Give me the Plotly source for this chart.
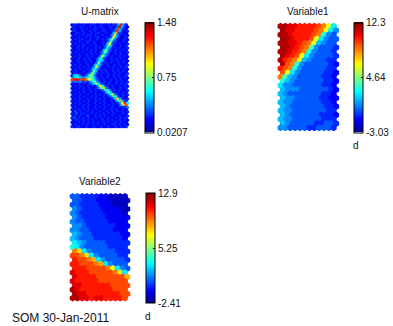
import math
import plotly.graph_objects as go

W, H = 393, 326

# Colour codes: each character is one hexagonal cell,
# "0" = bottom of the colour bar, "k" = top, in 20 equal steps.
CODES = "0123456789abcdefghijk"

UMAT_RANGE = [0.0207, 1.48]
VAR1_RANGE = [-3.03, 12.3]
VAR2_RANGE = [-2.41, 12.9]

UMAT_TICKS = ["0.0207", "0.75", "1.48"]
VAR1_TICKS = ["-3.03", "4.64", "12.3"]
VAR2_TICKS = ["-2.41", "5.25", "12.9"]

TITLES = ["U-matrix", "Variable1", "Variable2"]
UNIT_LABEL = "d"
FOOTER = "SOM 30-Jan-2011"

UMAT_ROWS = [
    "23322 32233 22322 32336 h52",
    "32233 22323 23322 3324i 632",
    "23223 23223 32232 2325g 532",
    "33223 22323 22332 234h6 323",
    "22332 32232 33223 226e4 322",
    "23223 23323 22322 35d53 232",
    "32232 23232 33223 24c63 223",
    "23233 22322 32323 6a532 232",
    "32232 23323 22232 59432 232",
    "23223 23223 22326 c4323 223",
    "32232 32232 32235 a6322 323",
    "22323 23223 23247 52323 223",
    "32232 23232 32269 53232 232",
    "23223 22323 235a6 32323 223",
    "32232 23232 32475 32232 322",
    "23232 23232 25c63 23223 232",
    "32232 32322 36843 23232 322",
    "22322 32322 57632 23232 232",
    "32232 23232 4a523 23223 232",
    "23232 23226 85323 22323 223",
    "32232 32325 c6322 32322 323",
    "23232 23267 53232 23232 232",
    "32322 32349 62323 22323 232",
    "23222 235a6 32323 22323 223",
    "36753 247b6 32322 32323 223",
    "57865 67a85 32323 22323 232",
    "ghihg hfca7 43232 23232 322",
    "45453 43589 53232 32232 323",
    "32232 32346 a7432 32232 323",
    "23232 23232 5c843 23223 232",
    "32232 32322 359d5 32322 323",
    "23223 22323 23478 52323 223",
    "32232 32232 32236 96323 232",
    "23232 23223 23234 7c532 323",
    "32232 32232 32232 35873 232",
    "23232 23223 23232 236d6 323",
    "32232 32322 32232 23258 e53",
    "23232 23223 23232 23235 ch7",
    "32232 32322 32232 32323 6dg",
    "23223 23223 23232 23223 235",
    "32232 32322 32232 23232 232",
    "24232 23232 23223 23232 323",
    "32423 32232 32232 32322 232",
    "23232 24223 23232 23223 223",
    "34232 32322 32322 32232 323",
    "23323 23232 22323 23223 232",
    "32232 32323 23232 32232 322",
    "23223 23232 32232 23323 232",
    "32332 23223 22322 32232 323",
]

VAR1_ROWS = [
    "jjiihhhhgfc7",
    "jiihhhhgfc75",
    "jjihhhhgf854",
    "jjihhhgc7544",
    "jjiihgfc6544",
    "jjihgf954443",
    "jjihgf854443",
    "jihgc7544443",
    "jhgfc6544433",
    "jgf854444432",
    "hgf854444433",
    "gc7544444332",
    "f96544444332",
    "865444444332",
    "755444444332",
    "655544444432",
    "654444444332",
    "655444443322",
    "655444444332",
    "654444444332",
    "655444444433",
    "654444443332",
    "655444444333",
    "654444433443",
    "554444334443",
]

VAR2_ROWS = [
    "443333221111",
    "443332221111",
    "443333222111",
    "543333222211",
    "543333322221",
    "543333322222",
    "544333332222",
    "554333333222",
    "554433333222",
    "654433333322",
    "654443333332",
    "765444433333",
    "875444443333",
    "fd7544444333",
    "ggfd75444433",
    "hggfe7544443",
    "hhgggfe75444",
    "hhhggggfc754",
    "ihhhgggggfd7",
    "ihhhhgggggge",
    "ihhhhhgggggg",
    "iihhhhhhgggg",
    "jihhhhhhhggg",
    "jiihhhhhhhgg",
    "jjiihiihhhhg",
]

# MATLAB-style jet colormap
JET = [
    [0.0, "rgb(0,0,143)"],
    [0.111, "rgb(0,0,255)"],
    [0.365, "rgb(0,255,255)"],
    [0.619, "rgb(255,255,0)"],
    [0.873, "rgb(255,0,0)"],
    [1.0, "rgb(128,0,0)"],
]

S3 = math.sqrt(3) / 2
FONT = "Liberation Sans, Arial, sans-serif"


def decode(rows, vr):
    out = []
    for r in rows:
        s = r.replace(" ", "")
        out.append([vr[0] + CODES.index(ch) / 20.0 * (vr[1] - vr[0]) for ch in s])
    return out


def hex_points(vals):
    xs, ys, cs = [], [], []
    for i, row in enumerate(vals):
        for j, v in enumerate(row):
            xs.append(j + 0.5 * (i % 2))
            ys.append(-i * S3)
            cs.append(v)
    return xs, ys, cs


# pixel boxes: grid (x0, y0, x1, y1), colorbar (x0, y0, x1, y1), title y, unit label
PANELS = [
    dict(rows=UMAT_ROWS, vr=UMAT_RANGE, ticks=UMAT_TICKS, title=TITLES[0],
         grid=(71.5, 23.5, 130.0, 128.0), cb=(146, 22.5, 155, 132.5), ty=11.5, d=None, pad=0.8),
    dict(rows=VAR1_ROWS, vr=VAR1_RANGE, ticks=VAR1_TICKS, title=TITLES[1],
         grid=(281.0, 23.5, 342.0, 130.5), cb=(358, 22.5, 367, 132.5), ty=11.5, d=(360, 145), pad=1.1),
    dict(rows=VAR2_ROWS, vr=VAR2_RANGE, ticks=VAR2_TICKS, title=TITLES[2],
         grid=(71.0, 193.5, 131.0, 301.0), cb=(147, 193, 156, 303), ty=181.5, d=(150, 316), pad=1.1),
]

fig = go.Figure()
annotations = []
layout_axes = {}

for k, p in enumerate(PANELS):
    vals = decode(p["rows"], p["vr"])
    nrows, ncols = len(vals), len(vals[0])
    xs, ys, cs = hex_points(vals)
    gx0, gy0, gx1, gy1 = p["grid"]
    xr = [-0.5, ncols]
    yr = [-((nrows - 1) * S3 + 1 / math.sqrt(3)), 1 / math.sqrt(3)]
    pxu = (gx1 - gx0) / (xr[1] - xr[0])
    msize = (pxu + p["pad"]) / S3
    cx0, cy0, cx1, cy1 = p["cb"]
    vr = p["vr"]
    mid = (vr[0] + vr[1]) / 2
    sfx = "" if k == 0 else str(k + 1)
    fig.add_trace(go.Scatter(
        x=xs, y=ys, mode="markers", xaxis="x" + sfx, yaxis="y" + sfx,
        cliponaxis=False, hoverinfo="skip", showlegend=False,
        marker=dict(
            symbol="hexagon", size=msize, color=cs, colorscale=JET,
            cmin=vr[0], cmax=vr[1], line=dict(width=0),
            showscale=True,
            colorbar=dict(
                x=cx0 / W, xanchor="left", xpad=0,
                y=1 - (cy0 + cy1) / 2 / H, yanchor="middle", ypad=0,
                len=(cy1 - cy0) / H, lenmode="fraction",
                thickness=cx1 - cx0, thicknessmode="pixels",
                outlinecolor="black", outlinewidth=1,
                tickvals=[vr[0], mid, vr[1]], ticktext=p["ticks"],
                ticks="inside", ticklen=2, tickcolor="black",
                tickfont=dict(family=FONT, size=10, color="#111"),
            ),
        ),
    ))
    layout_axes["xaxis" + sfx] = dict(domain=[gx0 / W, gx1 / W], range=xr, visible=False,
                                      fixedrange=True, anchor="y" + sfx)
    layout_axes["yaxis" + sfx] = dict(domain=[1 - gy1 / H, 1 - gy0 / H], range=yr, visible=False,
                                      fixedrange=True, anchor="x" + sfx)
    annotations.append(dict(
        text=p["title"], x=(gx0 + gx1) / 2 / W, y=1 - p["ty"] / H, xref="paper", yref="paper",
        xanchor="center", yanchor="middle", showarrow=False,
        font=dict(family=FONT, size=10, color="#111"),
    ))
    if p["d"]:
        annotations.append(dict(
            text=UNIT_LABEL, x=p["d"][0] / W, y=1 - p["d"][1] / H, xref="paper", yref="paper",
            xanchor="center", yanchor="middle", showarrow=False,
            font=dict(family=FONT, size=10, color="#111"),
        ))

annotations.append(dict(
    text=FOOTER, x=10 / W, y=1 - 317.5 / H, xref="paper", yref="paper",
    xanchor="left", yanchor="middle", showarrow=False,
    font=dict(family=FONT, size=12, color="#111"),
))

fig.update_layout(
    width=W, height=H, margin=dict(l=0, r=0, t=0, b=0),
    paper_bgcolor="white", plot_bgcolor="white",
    annotations=annotations, **layout_axes,
)

fig.write_html("out.html", config={"displayModeBar": False},
               post_script="document.body.style.margin='0';")
